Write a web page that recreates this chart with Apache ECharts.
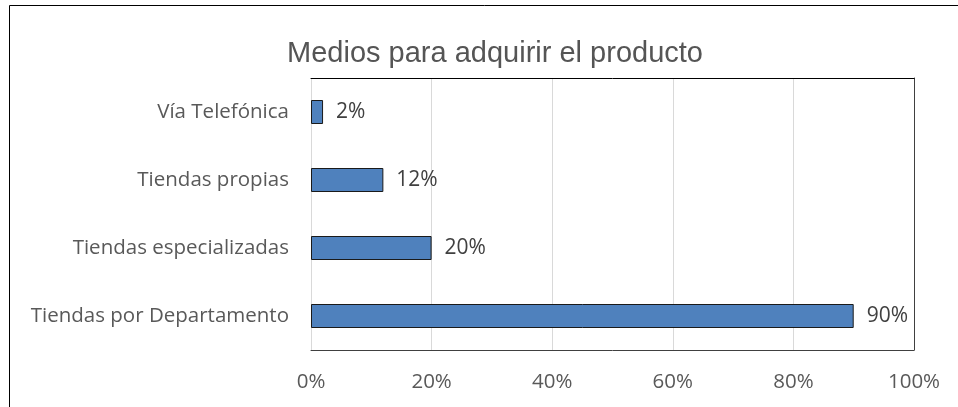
<!DOCTYPE html>
<html><head><meta charset="utf-8">
<script src="https://cdn.jsdelivr.net/npm/echarts@6/dist/echarts.min.js"></script>
<style>html,body{margin:0;padding:0;background:#fff}#c{width:958px;height:407px}</style>
</head><body><div id="c"></div>
<script>
var categories = ['Tiendas por Departamento', 'Tiendas especializadas', 'Tiendas propias', 'Vía Telefónica'];
var values = [90, 20, 12, 2];
var tickValues = [0, 20, 40, 60, 80, 100];
var titleText = 'Medios para adquirir el producto';

var chart = echarts.init(document.getElementById('c'));
chart.setOption({
  animation: false,
  title: {
    text: titleText, left: 490, textAlign: 'center', top: 34,
    textStyle: {fontFamily: 'Liberation Sans', fontSize: 29, fontWeight: 'normal', color: '#555555'}
  },
  graphic: [{type: 'rect', shape: {x: 9.5, y: 5.5, width: 1000, height: 1000}, style: {fill: 'none', stroke: '#000', lineWidth: 1}, silent: true}],
  grid: {left: 311, right: 44, top: 78, bottom: 57},
  xAxis: [{
    type: 'value', min: tickValues[0], max: tickValues[tickValues.length - 1], interval: 20,
    axisLine: {show: true, lineStyle: {color: '#404040'}},
    axisTick: {show: false},
    splitLine: {show: true, lineStyle: {color: '#d9d9d9', width: 1}},
    axisLabel: {margin: 22, fontFamily: 'Open Sans', fontSize: 20.5, color: '#595959', formatter: function (v) { return v + '%'; }}
  }, {
    type: 'value', position: 'top', min: 0, max: 100,
    axisLine: {show: true, onZero: false, lineStyle: {color: '#000'}},
    axisTick: {show: false}, axisLabel: {show: false}, splitLine: {show: false}
  }],
  yAxis: [{
    type: 'category', data: categories,
    axisLine: {show: false}, axisTick: {show: false},
    axisLabel: {margin: 22, fontFamily: 'Open Sans', fontSize: 20.5, color: '#595959'}
  }, {
    type: 'category', data: categories, position: 'right',
    axisLine: {show: true, onZero: false, lineStyle: {color: '#404040'}},
    axisTick: {show: false}, axisLabel: {show: false}, splitLine: {show: false}
  }],
  series: [{
    type: 'bar', data: values, barWidth: 24, xAxisIndex: 0, yAxisIndex: 0,
    itemStyle: {color: '#4f81bd', borderColor: '#1a1a1a', borderWidth: 1},
    label: {show: true, position: 'right', distance: 13, fontFamily: 'Open Sans', fontSize: 21, color: '#404040', formatter: function (p) { return p.value + '%'; }}
  }]
});
</script></body></html>
